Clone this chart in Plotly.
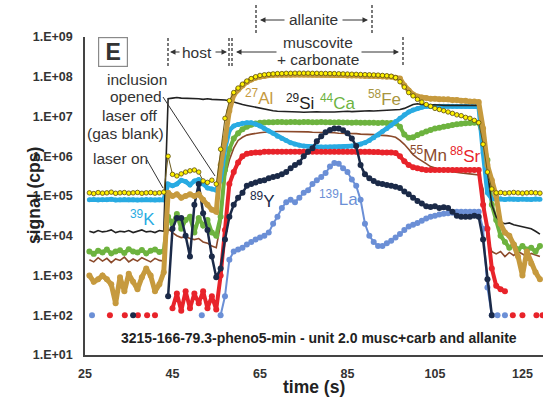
import plotly.graph_objects as go

# ---------------- data (counts per second) ----------------
T = list(range(26, 130))  # time (s), 1 s steps

Si = [
    1.3e4, 1.2e4, 1.35e4, 1.25e4, 1.3e4, 1.4e4, 1.2e4, 1.3e4, 1.25e4, 1.35e4,   # 26-35
    1.2e4, 1.3e4, 1.4e4, 1.25e4, 1.3e4, 1.2e4, 1.35e4, 1.3e4, 2.8e7, 2.9e7,     # 36-45
    3.0e7, 2.9e7, 2.9e7, 2.8e7, 2.9e7, 2.8e7, 2.7e7, 2.8e7, 2.7e7, 2.7e7,       # 46-55
    2.6e7, 2.6e7, 2.5e7, 2.3e7, 2.1e7, 2.0e7, 1.9e7, 1.8e7, 1.7e7, 1.6e7,       # 56-65
    1.5e7, 1.45e7, 1.4e7, 1.35e7, 1.35e7, 1.3e7, 1.3e7, 1.32e7, 1.3e7, 1.28e7,  # 66-75
    1.3e7, 1.3e7, 1.32e7, 1.3e7, 1.28e7, 1.3e7, 1.3e7, 1.32e7, 1.35e7, 1.35e7,  # 76-85
    1.33e7, 1.35e7, 1.38e7, 1.4e7, 1.4e7, 1.38e7, 1.4e7, 1.42e7, 1.45e7, 1.45e7,  # 86-95
    1.45e7, 1.5e7, 1.6e7, 1.8e7, 2.0e7, 2.1e7, 2.0e7, 2.0e7, 2.0e7, 1.95e7,    # 96-105
    1.95e7, 1.9e7, 1.9e7, 1.9e7, 1.9e7, 1.9e7, 1.9e7, 1.9e7, 1.9e7, 1.9e7,     # 106-115
    3.0e6, 4.0e5, 6.0e4, 3.0e4, 2.2e4, 2.0e4, 2.1e4, 1.9e4, 1.8e4, 1.7e4,      # 116-125
    1.6e4, 1.5e4, 1.3e4, 1.1e4]                                                 # 126-129

K = [
    8.0e4, 8.2e4, 7.9e4, 8.1e4, 8.0e4, 8.3e4, 7.9e4, 8.0e4, 8.2e4, 8.0e4,
    8.1e4, 7.9e4, 8.0e4, 8.2e4, 8.0e4, 7.9e4, 8.1e4, 8.0e4, 2.0e5, 1.8e5,
    2.0e5, 2.5e5, 2.3e5, 1.9e5, 2.4e5, 2.6e5, 2.0e5, 1.6e5, 1.5e5, 1.4e5,
    2.5e5, 1.5e6, 4.5e6, 5.8e6, 6.3e6, 6.8e6, 7.0e6, 7.0e6, 6.5e6, 5.8e6,
    5.0e6, 4.3e6, 3.8e6, 3.2e6, 2.8e6, 2.5e6, 2.2e6, 2.0e6, 1.9e6, 1.8e6,
    1.75e6, 1.7e6, 1.7e6, 1.7e6, 1.7e6, 1.7e6, 1.7e6, 1.7e6, 1.7e6, 1.75e6,
    1.8e6, 1.9e6, 2.0e6, 2.2e6, 2.5e6, 2.9e6, 3.4e6, 4.2e6, 5.0e6, 6.0e6,
    7.5e6, 9.0e6, 1.1e7, 1.3e7, 1.45e7, 1.6e7, 1.7e7, 1.8e7, 1.8e7, 1.8e7,
    1.8e7, 1.8e7, 1.8e7, 1.8e7, 1.8e7, 1.8e7, 1.8e7, 1.8e7, 1.8e7, 1.75e7,
    1.2e6, 1.2e5, 8.5e4, 8.3e4, 8.5e4, 8.2e4, 8.4e4, 8.3e4, 8.2e4, 8.4e4,
    8.3e4, 8.2e4, 8.4e4, 8.3e4]

Ca = [
    4.0e3, 3.5e3, 4.2e3, 3.8e3, 4.5e3, 3.6e3, 4.0e3, 4.3e3, 3.7e3, 4.6e3,
    4.0e3, 3.8e3, 4.4e3, 3.6e3, 4.2e3, 4.5e3, 3.9e3, 4.1e3, 3.0e4, 2.0e4,
    3.5e4, 1.5e4, 2.5e4, 3.0e4, 1.2e4, 2.8e4, 1.8e4, 2.5e4, 1.2e4, 1.0e4,
    3.0e4, 4.5e5, 1.5e6, 2.8e6, 3.8e6, 4.8e6, 5.5e6, 6.2e6, 6.7e6, 7.0e6,
    7.1e6, 7.2e6, 7.2e6, 7.3e6, 7.3e6, 7.2e6, 7.3e6, 7.3e6, 7.2e6, 7.3e6,
    7.3e6, 7.2e6, 7.2e6, 7.3e6, 7.2e6, 7.2e6, 7.1e6, 7.2e6, 7.1e6, 7.1e6,
    7.0e6, 7.1e6, 7.0e6, 7.0e6, 7.0e6, 7.0e6, 6.9e6, 7.0e6, 6.9e6, 6.9e6,
    6.8e6, 5.5e6, 3.5e6, 2.9e6, 3.0e6, 3.4e6, 3.8e6, 4.2e6, 4.6e6, 5.0e6,
    5.2e6, 5.5e6, 5.8e6, 6.1e6, 6.4e6, 6.6e6, 6.8e6, 6.9e6, 7.0e6, 7.0e6,
    3.0e6, 8.0e5, 6.0e4, 2.5e4, 1.0e4, 7.0e3, 5.0e3, 6.0e3, 4.5e3, 5.5e3,
    4.5e3, 5.0e3, 4.0e3, 5.5e3]

Mn = [
    2.5e3, 2.2e3, 2.8e3, 2.3e3, 2.7e3, 2.1e3, 2.6e3, 2.4e3, 2.9e3, 2.2e3,
    2.6e3, 2.3e3, 2.8e3, 2.5e3, 2.2e3, 2.7e3, 2.4e3, 2.3e3, 1.5e4, 1.2e4,
    1.0e4, 9.0e3, 9.5e3, 8.5e3, 8.0e3, 8.5e3, 7.0e3, 6.5e3, 5.5e3, 5.0e3,
    2.0e4, 3.0e5, 8.0e5, 1.6e6, 2.5e6, 3.0e6, 3.4e6, 3.6e6, 3.8e6, 3.9e6,
    4.0e6, 4.1e6, 4.1e6, 4.2e6, 4.2e6, 4.2e6, 4.2e6, 4.2e6, 4.1e6, 4.1e6,
    4.1e6, 4.0e6, 4.0e6, 4.0e6, 3.9e6, 3.9e6, 3.9e6, 3.8e6, 3.8e6, 3.8e6,
    3.7e6, 3.7e6, 3.6e6, 3.6e6, 3.5e6, 3.5e6, 3.4e6, 3.4e6, 3.3e6, 3.2e6,
    3.0e6, 2.5e6, 2.0e6, 1.5e6, 1.1e6, 9.0e5, 7.5e5, 6.5e5, 5.5e5, 5.0e5,
    4.7e5, 4.4e5, 4.2e5, 4.0e5, 3.9e5, 3.8e5, 3.7e5, 3.6e5, 3.5e5, 3.4e5,
    1.5e5, 8.0e3, 4.0e3, 3.5e3, 4.0e3, 3.0e3, 3.8e3, 3.2e3, 4.0e3, 3.5e3,
    3.0e3, 3.6e3, 3.3e3, 3.0e3]

Sr = [
    None, None, None, None, None, None, None, None, None, None,
    None, None, None, None, None, None, None, None, None, 1.5e2,
    3.5e2, 1.3e2, 4.0e2, 1.5e2, 3.5e2, 2.0e2, 4.0e2, 1.5e2, 3.0e2, 1.4e2,
    1.0e3, 1.4e4, 2.0e5, 4.0e5, 7.0e5, 1.0e6, 1.15e6, 1.2e6, 1.25e6, 1.25e6,
    1.3e6, 1.3e6, 1.3e6, 1.3e6, 1.3e6, 1.3e6, 1.3e6, 1.3e6, 1.3e6, 1.3e6,
    1.3e6, 1.3e6, 1.3e6, 1.3e6, 1.3e6, 1.3e6, 1.3e6, 1.3e6, 1.3e6, 1.3e6,
    1.3e6, 1.3e6, 1.3e6, 1.3e6, 1.3e6, 1.28e6, 1.28e6, 1.25e6, 1.25e6, 1.25e6,
    1.2e6, 1.0e6, 7.5e5, 6.0e5, 5.3e5, 5.0e5, 4.7e5, 4.5e5, 4.5e5, 4.5e5,
    4.5e5, 4.5e5, 4.5e5, 4.5e5, 4.5e5, 4.5e5, 4.5e5, 4.5e5, 4.5e5, 4.5e5,
    6.0e4, 1.5e4, 1.5e3, 5.5e2, 4.5e2, 4.0e2, None, None, None, None,
    None, None, None, None]

Y = [
    None, None, None, None, None, None, None, None, None, None,
    None, None, None, None, None, None, None, None, 3.0e2, 1.5e4,
    2.8e4, 2.8e4, 1.0e4, 3.0e3, 6.0e4, 2.0e5, 3.7e4, 1.4e4, 3.0e3, 9.0e2,
    1.5e3, 8.0e3, 3.0e4, 6.0e4, 9.0e4, 1.2e5, 1.8e5, 2.0e5, 2.2e5, 2.4e5,
    2.5e5, 2.8e5, 3.0e5, 3.2e5, 3.5e5, 4.0e5, 5.0e5, 6.0e5, 7.0e5, 1.0e6,
    1.3e6, 1.6e6, 2.4e6, 3.2e6, 4.0e6, 4.6e6, 5.0e6, 5.0e6, 4.5e6, 3.8e6,
    2.8e6, 1.8e6, 6.0e5, 3.5e5, 2.8e5, 2.4e5, 2.1e5, 2.0e5, 1.9e5, 1.8e5,
    1.7e5, 1.6e5, 1.3e5, 1.1e5, 9.0e4, 7.5e4, 6.5e4, 5.5e4, 5.3e4, 5.5e4,
    5.0e4, 5.2e4, 5.0e4, 4.0e4, 3.2e4, 3.0e4, 3.0e4, 3.0e4, 3.2e4, 3.0e4,
    8.0e3, 8.0e2, 1.0e2, None, None, None, None, None, None, None,
    None, None, None, None]

La = [
    None, None, None, None, None, None, None, None, None, None,
    None, None, None, None, None, None, None, None, None, None,
    None, None, None, None, None, None, None, None, None, None,
    1.0e2, 3.0e2, 2.5e3, 4.0e3, 4.5e3, 5.0e3, 6.0e3, 7.0e3, 8.0e3, 9.0e3,
    1.0e4, 1.2e4, 2.0e4, 3.0e4, 5.0e4, 7.0e4, 8.0e4, 7.0e4, 9.0e4, 1.2e5,
    1.4e5, 2.0e5, 2.5e5, 3.0e5, 3.8e5, 5.5e5, 6.8e5, 6.5e5, 5.0e5, 4.0e5,
    2.6e5, 1.8e5, 8.0e4, 2.0e4, 1.0e4, 7.0e3, 5.5e3, 5.5e3, 6.5e3, 7.5e3,
    9.0e3, 1.1e4, 1.4e4, 1.7e4, 1.9e4, 2.1e4, 2.4e4, 2.7e4, 3.0e4, 3.2e4,
    3.4e4, 3.6e4, 3.7e4, 3.8e4, 4.0e4, 4.0e4, 4.0e4, 4.0e4, 4.0e4, 4.0e4,
    1.5e4, 5.0e2, 1.0e2, None, None, None, None, None, None, None,
    None, None, None, None]

Al = [
    1.0e3, 7.0e2, 8.0e2, 1.0e3, 8.0e2, 6.0e2, 2.0e2, 9.0e2, 4.0e2, 1.1e3,
    7.0e2, 4.5e2, 9.0e2, 1.5e3, 1.0e3, 4.0e2, 6.0e2, 1.2e3, 1.2e5, 1.0e5,
    1.1e5, 9.0e4, 1.0e5, 1.1e5, 1.0e5, 1.1e5, 8.0e4, 6.0e4, 4.5e4, 4.0e4,
    6.0e5, 2.5e6, 1.4e7, 3.5e7, 4.8e7, 6.0e7, 7.4e7, 8.5e7, 9.5e7, 1.0e8,
    1.05e8, 1.1e8, 1.1e8, 1.12e8, 1.12e8, 1.13e8, 1.13e8, 1.14e8, 1.14e8, 1.14e8,
    1.14e8, 1.13e8, 1.13e8, 1.12e8, 1.12e8, 1.12e8, 1.1e8, 1.1e8, 1.1e8, 1.08e8,
    1.08e8, 1.07e8, 1.06e8, 1.05e8, 1.05e8, 1.04e8, 1.03e8, 1.02e8, 1.0e8, 1.0e8,
    9.5e7, 9.0e7, 6.0e7, 4.5e7, 3.6e7, 3.2e7, 3.0e7, 2.9e7, 2.8e7, 2.8e7,
    2.7e7, 2.7e7, 2.7e7, 2.6e7, 2.6e7, 2.5e7, 2.5e7, 2.4e7, 2.4e7, 2.3e7,
    5.0e6, 6.0e5, 2.5e5, 1.0e5, 2.0e4, 1.2e4, 1.0e4, 6.0e3, 3.0e3, 1.0e3,
    4.0e3, 2.0e3, 1.2e3, 8.0e2]

Fe = [
    1.2e5, 1.15e5, 1.22e5, 1.18e5, 1.2e5, 1.25e5, 1.17e5, 1.2e5, 1.22e5, 1.18e5,
    1.2e5, 1.23e5, 1.17e5, 1.2e5, 1.22e5, 1.18e5, 1.2e5, 1.25e5, 1.0e6, 3.5e5,
    3.2e5, 3.6e5, 4.0e5, 4.3e5, 4.5e5, 4.0e5, 2.4e5, 2.2e5, 2.5e5, 2.0e5,
    1.5e6, 9.0e6, 2.5e7, 4.0e7, 5.2e7, 6.5e7, 7.8e7, 9.0e7, 1.0e8, 1.08e8,
    1.12e8, 1.15e8, 1.18e8, 1.2e8, 1.2e8, 1.22e8, 1.22e8, 1.23e8, 1.23e8, 1.23e8,
    1.23e8, 1.22e8, 1.22e8, 1.21e8, 1.21e8, 1.2e8, 1.2e8, 1.19e8, 1.18e8, 1.17e8,
    1.16e8, 1.15e8, 1.14e8, 1.13e8, 1.12e8, 1.11e8, 1.1e8, 1.08e8, 1.06e8, 1.03e8,
    9.5e7, 7.5e7, 5.5e7, 4.0e7, 3.3e7, 2.7e7, 2.3e7, 2.0e7, 1.8e7, 1.6e7,
    1.5e7, 1.4e7, 1.3e7, 1.2e7, 1.1e7, 1.05e7, 9.5e6, 9.0e6, 8.0e6, 7.0e6,
    2.0e6, 4.0e5, 1.5e5, 1.2e5, 1.22e5, 1.18e5, 1.2e5, 1.23e5, 1.2e5, 1.18e5,
    1.2e5, 1.22e5, 1.2e5, 1.18e5]

# readings at the detection floor (zero counts plotted at 1.E+02)
FLOOR = 1.0e2
Sr_floor_t = [30.7, 34.1, 37.1, 39.2, 41.0, 122.8, 125.0, 128.2, 129.6]
Y_floor_t = [36.0]
La_floor_t = [26.6, 51.7, 119.3, 121.0]

Y_TICKS = [1e1, 1e2, 1e3, 1e4, 1e5, 1e6, 1e7, 1e8, 1e9]
Y_TICKTEXT = ["1.E+01", "1.E+02", "1.E+03", "1.E+04", "1.E+05",
              "1.E+06", "1.E+07", "1.E+08", "1.E+09"]
X_TICKS = [25, 45, 65, 85, 105, 125]

# ---------------- layout helpers ----------------
W, H = 549, 400
PL, PR, PT, PB = 85, 543, 37, 355
X0, X1 = 25, 129.7
FONT = "Liberation Sans, Arial, Helvetica, sans-serif"


def xp(px):
    return (px - PL) / (PR - PL)


def yp(py):
    return (PB - py) / (PB - PT)


def xt(px):
    return X0 + (px - PL) * (X1 - X0) / (PR - PL)


C_AL = "#C69A3E"
C_FE_LINE = "#6B5A1C"
C_SI = "#222222"
C_K = "#29ABE2"
C_CA = "#6DB33F"
C_MN = "#8B4A2B"
C_SR = "#E8232A"
C_Y = "#1B2A48"
C_LA = "#6B8FD6"

fig = go.Figure()


def add(y, color, width, msize=0, mcolor=None, mline_color=None, mline_w=0):
    mode = "lines+markers" if msize else "lines"
    fig.add_trace(go.Scatter(
        x=T, y=y, mode=mode,
        line=dict(color=color, width=width),
        marker=dict(size=msize, color=mcolor or color,
                    line=dict(color=mline_color or color, width=mline_w)),
        showlegend=False, hoverinfo="skip"))


def add_floor(ts, color):
    fig.add_trace(go.Scatter(
        x=ts, y=[FLOOR] * len(ts), mode="markers",
        marker=dict(size=6, color=color), showlegend=False, hoverinfo="skip"))


add(Mn, C_MN, 1.6)
add(Ca, C_CA, 4, 6)
add(K, C_K, 4.5, 5)
add(La, C_LA, 2, 6)
add(Sr, C_SR, 4, 6)
add(Y, C_Y, 2.5, 6)
add(Si, C_SI, 1.6)
add(Al, C_AL, 5, 6)
add(Fe, C_FE_LINE, 1, 4.5, "#FFF200", "#5A4A10", 0.8)
add_floor(La_floor_t, C_LA)
add_floor(Sr_floor_t, C_SR)
add_floor(Y_floor_t, C_Y)

# ---------------- annotations ----------------
ann = []
shapes = []


def text(px, py, s, size=15.5, color="#333333", bold=False, xanchor="center"):
    if bold:
        s = "<b>" + s + "</b>"
    ann.append(dict(x=xp(px), y=yp(py), xref="paper", yref="paper", text=s,
                    showarrow=False, xanchor=xanchor, yanchor="middle",
                    font=dict(family=FONT, size=size, color=color)))


def arrow(head_px, tail_px, py):
    ann.append(dict(x=xt(head_px), y=yp(py), xref="x", yref="paper",
                    ax=xt(tail_px), ay=0, axref="x", ayref="pixel",
                    text="", showarrow=True, arrowhead=2, arrowsize=1.1,
                    arrowwidth=1, arrowcolor="#333333"))


def vdash(px, py0, py1):
    shapes.append(dict(type="line", xref="x", yref="paper",
                       x0=xt(px), x1=xt(px), y0=yp(py0), y1=yp(py1),
                       line=dict(color="#333333", width=1.3, dash="3px,2px")))


def pline(px0, py0, px1, py1):
    shapes.append(dict(type="line", xref="paper", yref="paper",
                       x0=xp(px0), y0=yp(py0), x1=xp(px1), y1=yp(py1),
                       line=dict(color="#333333", width=1)))


# panel letter
ann.append(dict(x=xp(113), y=yp(51.5), xref="paper", yref="paper",
                xanchor="center", yanchor="middle",
                text="<b>E</b>", showarrow=False, width=26,
                bordercolor="#8A8A8A", borderwidth=1.2, borderpad=1,
                bgcolor="white",
                font=dict(family=FONT, size=23, color="#333333")))

# bracket markers
vdash(168, 38, 66)
vdash(229, 38, 66)
vdash(232, 38, 66)
vdash(403, 37, 65)
vdash(256, 5, 35)
vdash(372, 5, 35)
arrow(170, 181, 52)
arrow(227, 214, 52)
arrow(236, 278, 52)
arrow(399, 360, 52)
arrow(260, 286, 20)
arrow(368, 341, 20)
text(197, 52, "host", 15.5)
text(313, 20, "allanite", 15.5)
text(318, 42, "muscovite", 15.5)
text(318, 59, "+ carbonate", 15.5)

# process notes
text(137, 79, "inclusion")
text(136, 97, "opened")
text(129.5, 116, "laser off")
text(125, 133, "(gas blank)")
text(120.5, 158, "laser on")
pline(163, 97, 215, 176)
pline(147, 160, 163, 188)

# element labels
EL = 17
text(259, 97, "<sup>27</sup>Al", EL, C_AL)
text(300, 102, "<sup>29</sup>Si", EL, C_SI)
text(338, 102, "<sup>44</sup>Ca", EL, C_CA)
text(384, 98, "<sup>58</sup>Fe", EL, "#A8953E")
text(428, 154, "<sup>55</sup>Mn", EL, C_MN)
text(465, 155, "<sup>88</sup>Sr", EL, C_SR)
text(262, 200, "<sup>89</sup>Y", EL, C_Y)
text(338, 198, "<sup>139</sup>La", EL, C_LA)
text(142, 218, "<sup>39</sup>K", EL, C_K)

# inner title and axis titles
text(319, 338, "3215-166-79.3-pheno5-min - unit 2.0 musc+carb and allanite",
     14, "#222222", bold=True)
text(314, 387, "time (s)", 17.5, "#222222", bold=True)
ann.append(dict(x=xp(22), y=0.5, xref="paper", yref="paper",
                text="<b>signal (cps)</b>", textangle=-90, showarrow=False,
                font=dict(family=FONT, size=17.5, color="#222222")))

fig.update_layout(
    width=W, height=H,
    margin=dict(l=PL, r=W - PR, t=PT, b=H - PB, pad=0),
    paper_bgcolor="white", plot_bgcolor="white",
    font=dict(family=FONT, color="#333333"),
    showlegend=False,
    annotations=ann, shapes=shapes,
    xaxis=dict(range=[X0, X1], tickvals=X_TICKS,
               ticktext=["<b>%d</b>" % v for v in X_TICKS],
               tickfont=dict(size=12.5, color="#333333"),
               showgrid=False, zeroline=False, showline=True,
               linecolor="#444444", linewidth=1.5, ticks="",
               ticklabelstandoff=6),
    yaxis=dict(type="log", range=[1, 9], tickvals=Y_TICKS,
               ticktext=["<b>%s</b>" % s for s in Y_TICKTEXT],
               tickfont=dict(size=12.5, color="#333333"),
               showgrid=False, zeroline=False, showline=True,
               linecolor="#444444", linewidth=1.5, ticks="",
               ticklabelstandoff=8),
)

fig.write_html("out.html",
               config={"displayModeBar": False},
               post_script="document.body.style.margin='0px';"
                           "document.body.style.padding='0px';")
